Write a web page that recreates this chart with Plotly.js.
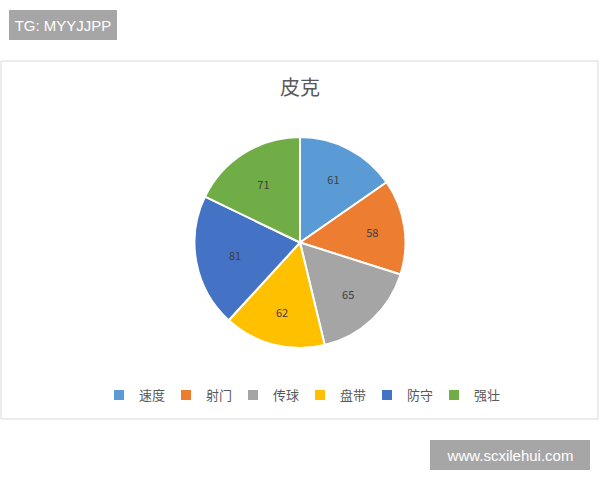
<!DOCTYPE html>
<html>
<head>
<meta charset="utf-8">
<script src="https://cdn.plot.ly/plotly-3.0.1.min.js"></script>
<style>
  body { margin: 0; background: #fff; }
  #chart { width: 600px; height: 480px; }
</style>
</head>
<body>
<div id="chart"></div>
<script>
const chartTitle = "皮克";
const skills = ["速度", "射门", "传球", "盘带", "防守", "强壮"];
const scores = [61, 58, 65, 62, 81, 71];
const colors = ["#5b9bd5", "#ed7d31", "#a5a5a5", "#ffc000", "#4472c4", "#70ad47"];

const W = 600, H = 480;
// pixel -> paper helpers
const px = (x) => x / W;
const py = (y) => 1 - y / H;

const font = "Noto Sans CJK SC, Arial, sans-serif";

Plotly.newPlot("chart", [
  {
    type: "pie",
    labels: skills,
    values: scores,
    sort: false,
    direction: "clockwise",
    rotation: 0,
    marker: { colors: colors, line: { color: "#ffffff", width: 2 } },
    textinfo: "value",
    textposition: "inside",
    insidetextorientation: "horizontal",
    textfont: { size: 11, color: "#404040", family: font },
    domain: { x: [px(194), px(406)], y: [py(348), py(137)] },
    hoverinfo: "label+value",
  },
], {
  width: W,
  height: H,
  margin: { l: 0, r: 0, t: 0, b: 0 },
  paper_bgcolor: "#ffffff",
  font: { family: font, color: "#595959" },
  title: {
    text: chartTitle,
    font: { size: 20, color: "#595959", family: font },
    x: 0.5,
    xanchor: "center",
    y: py(88),
    yanchor: "middle",
    yref: "paper",
  },
  showlegend: true,
  legend: {
    orientation: "h",
    x: 0.5,
    xanchor: "center",
    y: py(395),
    yanchor: "middle",
    font: { size: 13, color: "#595959", family: font },
    itemwidth: 30,
    entrywidth: 22,
    entrywidthmode: "pixels",
    tracegroupgap: 0,
  },
  shapes: [
    {
      type: "rect", xref: "paper", yref: "paper",
      x0: px(1), x1: px(598), y0: py(61), y1: py(419),
      line: { color: "#d9d9d9", width: 1 },
      layer: "below",
    },
  ],
  annotations: [
    {
      text: "TG: MYYJJPP",
      xref: "paper", yref: "paper",
      x: px(9), xanchor: "left", y: py(10), yanchor: "top",
      showarrow: false,
      width: 108, height: 30, borderpad: 0, borderwidth: 0,
      bgcolor: "#a6a6a6",
      font: { size: 15, color: "#ffffff", family: "Arial, sans-serif" },
    },
    {
      text: "www.scxilehui.com",
      xref: "paper", yref: "paper",
      x: px(430), xanchor: "left", y: py(440), yanchor: "top",
      showarrow: false,
      width: 160, height: 30, borderpad: 0, borderwidth: 0,
      bgcolor: "#a6a6a6",
      font: { size: 15, color: "#ffffff", family: "Arial, sans-serif" },
    },
  ],
}, { displayModeBar: false, staticPlot: true });
</script>
</body>
</html>
